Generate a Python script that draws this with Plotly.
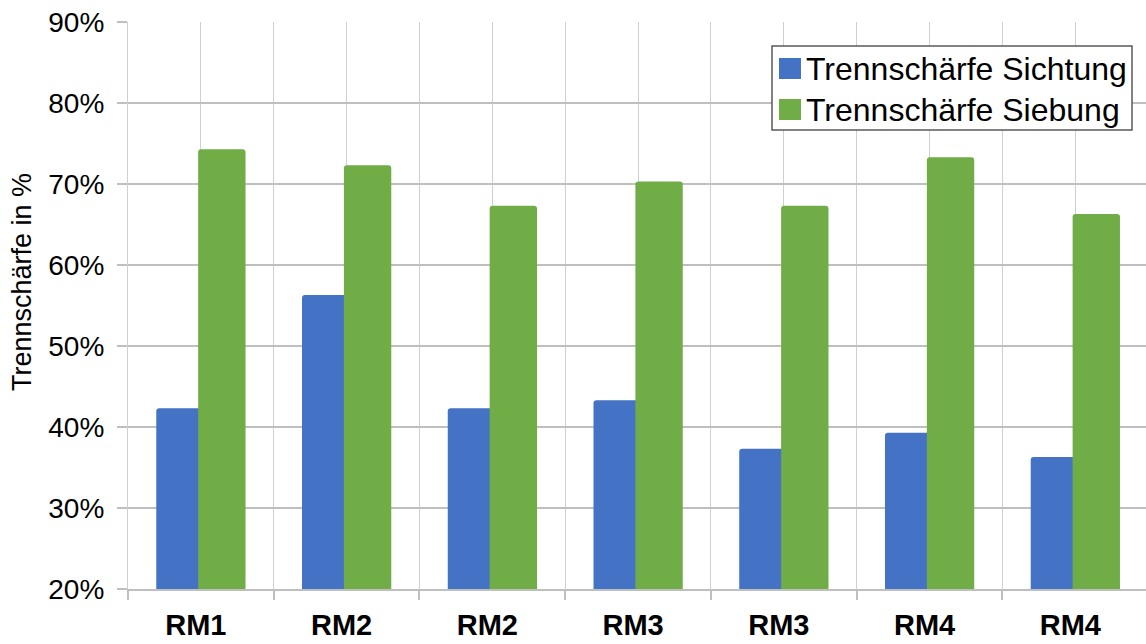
import plotly.graph_objects as go

# Kategorien und Messwerte (Trennschärfe in %)
categories = ["RM1", "RM2", "RM2", "RM3", "RM3", "RM4", "RM4"]
sichtung = [42.3, 56.3, 42.3, 43.3, 37.3, 39.3, 36.3]
siebung = [74.3, 72.3, 67.3, 70.3, 67.3, 73.3, 66.3]
series_names = ["Trennschärfe Sichtung", "Trennschärfe Siebung"]
y_ticks = [20, 30, 40, 50, 60, 70, 80, 90]

BLUE = "#4472C4"
GREEN = "#70AD47"
FONT = "Liberation Sans, Arial, sans-serif"

W, H = 1146, 644
ML, MR, MT, MB = 128, 0, 22, 55
PW, PH = W - ML - MR, H - MT - MB


def px_x(x):
    return (x - ML) / PW


def px_y(y):
    return (H - MB - y) / PH


xpos = list(range(len(categories)))

fig = go.Figure()
fig.add_trace(go.Bar(
    x=xpos, y=sichtung, name=series_names[0],
    marker=dict(color=BLUE, cornerradius=3, line=dict(width=0)),
    width=0.325, offset=-0.306, showlegend=False,
))
fig.add_trace(go.Bar(
    x=xpos, y=siebung, name=series_names[1],
    marker=dict(color=GREEN, cornerradius=3, line=dict(width=0)),
    width=0.325, offset=-0.0186, showlegend=False,
))

fig.update_layout(
    width=W, height=H,
    margin=dict(l=ML, r=MR, t=MT, b=MB, pad=0),
    barmode="overlay",
    plot_bgcolor="white", paper_bgcolor="white",
    font=dict(family=FONT, color="#000000"),
    showlegend=False,
)

fig.update_xaxes(
    range=[-0.5, 6.485],
    tickmode="array", tickvals=xpos, ticktext=categories,
    tickfont=dict(size=29, family=FONT, color="#000000", weight="bold"),
    ticks="", ticklabelstandoff=9, ticklabelshift=-5,
    showgrid=True, gridcolor="#D0D0D0", gridwidth=1.2,
    minor=dict(
        tickmode="array",
        tickvals=[i - 0.5 for i in range(len(categories) + 1)],
        ticks="outside", ticklen=9, tickcolor="#BFBFBF", tickwidth=1.5,
        showgrid=True, gridcolor="#D0D0D0", gridwidth=1.2,
    ),
    showline=True, linecolor="#BFBFBF", linewidth=2,
    zeroline=False, fixedrange=True,
)

fig.update_yaxes(
    range=[20, 90],
    tickmode="array", tickvals=y_ticks,
    ticktext=[f"{v}%" for v in y_ticks],
    tickfont=dict(size=28, family=FONT, color="#000000"),
    ticks="outside", ticklen=10, tickcolor="#BFBFBF", tickwidth=1.5,
    ticklabelstandoff=7,
    showgrid=True, gridcolor="#BFBFBF", gridwidth=1.5,
    showline=True, linecolor="#D0D0D0", linewidth=1.2,
    zeroline=False, fixedrange=True,
)

# Achsentitel
fig.add_annotation(
    text="Trennschärfe in %", textangle=-90,
    xref="paper", yref="paper", x=px_x(22), y=px_y(282),
    xanchor="center", yanchor="middle", showarrow=False,
    font=dict(size=27, family=FONT, color="#000000"),
)

# Legende als Rahmen mit Farbfeldern und Beschriftung
fig.add_shape(
    type="rect", xref="paper", yref="paper",
    x0=px_x(772), x1=px_x(1132), y0=px_y(130), y1=px_y(46),
    line=dict(color="#595959", width=1.5), fillcolor="white", layer="above",
)
for i, (name, color) in enumerate(zip(series_names, [BLUE, GREEN])):
    top = 58 + i * 41
    fig.add_shape(
        type="rect", xref="paper", yref="paper",
        x0=px_x(779), x1=px_x(801), y0=px_y(top + 21), y1=px_y(top),
        line=dict(color=color, width=0), fillcolor=color, layer="above",
    )
    fig.add_annotation(
        text=name, xref="paper", yref="paper",
        x=px_x(804), y=px_y(top + 11),
        xanchor="left", yanchor="middle", showarrow=False,
        font=dict(size=32, family=FONT, color="#000000"),
    )

fig.write_html("out.html")
